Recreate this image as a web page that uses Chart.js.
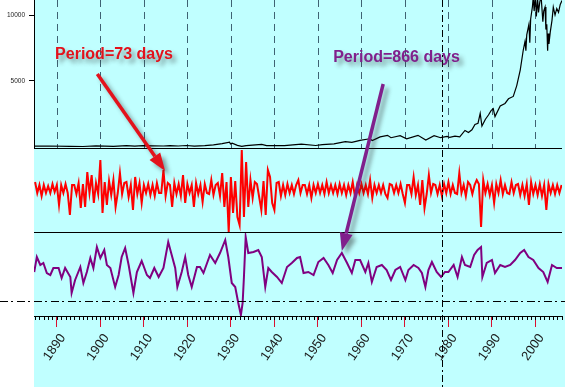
<!DOCTYPE html>
<html>
<head>
<meta charset="utf-8">
<script src="https://cdn.jsdelivr.net/npm/chart.js@4/dist/chart.umd.min.js"></script>
<style>
html, body { margin: 0; padding: 0; background: #fff; }
#wrap { width: 565px; height: 387px; position: relative; }
</style>
</head>
<body>
<div id="wrap"><canvas id="chart"></canvas></div>
<script>
// price index, top panel
let dowYears = [1884.8,1888,1893,1896,1899,1903,1906,1907.9,1909.8,1914.5,
    1916,1917.9,1919.8,1921.6,1924,1926,1928,1929.7,1929.9,1930.3,
    1931.5,1932.5,1933.5,1937.1,1938.2,1942.3,1946.2,1949.5,1951,1953.7,
    1956.3,1957.8,1959.7,1961.9,1962.5,1964.3,1966,1966.8,1968.9,1970.4,
    1973,1974.8,1976.7,1978.2,1979.7,1980.3,1981.5,1982.6,1983.8,1984.6,
    1985.4,1986.1,1986.8,1987.3,1987.7,1988.5,1989.2,1989.8,1990.3,1990.7,
    1991.9,1993,1993.8,1994.9,1995.7,1996.5,1997.2,1997.6,1997.8,1998.0,
    1998.5,1998.7,1998.9,1999.3,1999.5,1999.7,2000.0,2000.2,2000.5,2000.7,
    2001.0,2001.3,2001.7,2001.9,2002.2,2002.4,2002.6,2002.8,2002.9,2003.1,
    2003.4,2003.8,2004.1,2004.5,2004.9,2005.3,2005.7,2006.1];
let dowValues = [60,70,45,35,75,50,95,55,100,70,
    105,70,110,65,100,150,250,370,230,290,
    120,45,100,190,100,95,210,110,180,240,
    400,350,500,620,480,760,880,700,860,620,
    880,520,850,700,800,720,820,760,1250,1090,
    1300,1700,1800,2550,1580,2100,2420,2750,2900,2300,
    3100,3300,3650,3830,4650,5830,7350,8000,7300,8500,
    9300,7900,9700,10630,11400,10300,11600,9900,11200,10200,
    11000,11400,9500,10300,10600,8900,9300,7300,8600,7800,
    8700,9600,10600,10000,10500,10200,10800,11100];

// 73 day component, two readings a year starting 1885.0
let redFirstYear = 1885;
let redValues = [
    7,-4, 4,-7, 4,-4, 3,-4, 5,-3,            // 1885-1889
    4,-16, 4,-4, 5,-4, -26,4, 4,-5,          // 1890-1894
    6,-19, 5,-18, 17,-4, 14,-14, 6,-5,       // 1895-1899
    29,-24, 7,-16, 8,-6, 9,-18, -4,16,       // 1900-1904
    -5,6, 7,-8, 4,-21, 12,-5, 6,-14,         // 1905-1909
    4,-4, 5,-6, 4,-7, 6,-4, -4,19,           // 1910-1914
    -7,6, 4,-18, 6,-5, 5,-7, 14,-14,         // 1915-1919
    5,-4, 4,-18, 6,-5, 4,-13, 5,-4,          // 1920-1924
    -5,9, -6,4, 6,-7, 16,-18, 7,-43,         // 1925-1929
    12,-24, 8,-28, -36,39, -28,27, -18,9,    // 1930-1934
    -9,7, 5,-8, -21,8, -26,19, 12,-14,       // 1935-1939
    -21,6, 7,-7, 4,-6, 5,-4, 4,-5,           // 1940-1944
    4,9, -4,4, 4,-5, 4,-9, 4,-4,             // 1945-1949
    5,-4, 4,-5, 7,-4, 4,-4, 4,-5,            // 1950-1954
    5,-4, 4,-6, 4,-4, 7,-7, 4,-4,            // 1955-1959
    5,-4, 4,-5, 9,-9, 4,-4, 4,-4,            // 1960-1964
    4,-5, -9,5, 4,-4, 4,-4, 5,-5,            // 1965-1969
    -14,4, 4,-5, 12,-6, 4,-16, 9,-19,        // 1970-1974
    -5,14, -4,5, 4,-5, 4,-7, 5,-4,           // 1975-1979
    7,-5, 4,-4, -5,16, -4,4, -7,7,           // 1980-1984
    4,-5, 4,9, 5,-38, 9,-4, 5,-6,            // 1985-1989
    4,-14, 5,-4, 9,-5, 4,-4, -5,7,           // 1990-1994
    -4,4, 5,-6, 4,-7, 5,-16, 7,-5,           // 1995-1999
    4,-6, 5,-7, 4,-21, 5,-4, 4,-5,           // 2000-2004
    4,-4, 4                                  // 2005-2006
];

// 866 day component, bottom panel
let purpleYears = [1884.8,1885.4,1886.2,1886.9,1887.7,1888.5,1889.2,1890.4,1891.1,1891.9,
    1893.1,1893.4,1894.2,1895.4,1896.1,1896.9,1897.7,1898.4,1899.2,1900.0,
    1900.9,1901.5,1902.3,1903.4,1904.2,1904.9,1905.7,1906.5,1907.6,1908.4,
    1909.5,1910.7,1911.4,1912.4,1913.4,1914.5,1915.6,1916.4,1917.2,1917.7,
    1918.7,1919.5,1920.2,1921.0,1922.2,1922.9,1923.7,1925.2,1926.4,1927.5,
    1928.7,1929.4,1930.2,1931.0,1931.7,1932.3,1932.7,1933.0,1933.4,1934.0,
    1935.2,1936.3,1937.1,1937.9,1938.6,1939.4,1940.6,1941.7,1942.9,1944.0,
    1945.2,1945.9,1946.7,1947.8,1949.0,1950.1,1951.3,1952.4,1953.4,1954.4,
    1955.5,1956.7,1957.8,1958.6,1959.7,1960.9,1961.6,1962.4,1963.5,1964.7,
    1965.8,1966.8,1967.8,1968.9,1970.1,1970.8,1972.0,1973.1,1973.9,1974.7,
    1975.4,1976.2,1977.3,1978.3,1979.2,1980.0,1981.2,1982.1,1983.1,1983.8,
    1985.0,1985.9,1986.7,1987.5,1987.8,1988.8,1990.0,1990.7,1991.9,1993.0,
    1994.2,1995.3,1996.5,1997.4,1998.4,1999.5,2000.7,2001.8,2002.8,2003.8,
    2004.9,2006.1];
let purpleValues = [2,17,9,11,1,-1,6,6,-4,6,
    -3,-19,-6,7,-9,2,16,6,27,16,
    24,9,6,-13,-1,17,26,9,-19,2,
    13,-1,-4,6,-3,6,32,19,6,-13,
    2,17,-1,-13,7,7,1,19,11,21,
    34,17,-9,-13,-29,-41,-29,-3,37,21,
    22,24,17,-13,6,2,-3,-9,7,11,
    16,17,1,2,-1,12,16,9,1,14,
    21,11,1,14,14,2,11,-8,7,9,
    4,-6,4,7,-6,4,9,6,1,-13,
    4,12,2,-3,2,2,9,-3,17,9,
    7,19,24,27,-3,11,14,1,9,7,
    9,14,21,24,17,14,6,2,-8,9,
    6,6];

let decadeYears = [1890,1900,1910,1920,1930,1940,1950,1960,1970,1980,1990,2000];
let priceTicks = [5000, 10000];
let markerYear = 1978.6;
let purpleFloor = -27;

let notes = [
    { text: "Period=73 days", color: "#e3121c", year: 1889.6, value: 6630,
      tail: [1899.3, 5530], tip: [1914.9, 18], tipAxis: "yRed" },
    { text: "Period=866 days", color: "#80208c", year: 1953.5, value: 6440,
      tail: [1965.0, 4772], tip: [1955.5, 23], tipAxis: "yPurple" }
];

let cyan = "#c0ffff";
let fontFamily = 'Arial, "Liberation Sans", sans-serif';
Chart.defaults.font.family = fontFamily;

function pairs(xs, ys) {
    return xs.map((x, i) => ({ x: x, y: ys[i] }));
}
let redPoints = redValues.map((v, i) => ({ x: redFirstYear + i * 0.5, y: v }));

function drawArrow(ctx, x0, y0, x1, y1, color) {
    let ang = Math.atan2(y1 - y0, x1 - x0);
    let head = 18, half = 6.5;
    let bx = x1 - head * Math.cos(ang), by = y1 - head * Math.sin(ang);
    ctx.strokeStyle = color;
    ctx.fillStyle = color;
    ctx.lineWidth = 3.5;
    ctx.beginPath();
    ctx.moveTo(x0, y0);
    ctx.lineTo(bx, by);
    ctx.stroke();
    ctx.beginPath();
    ctx.moveTo(x1, y1);
    ctx.lineTo(bx + half * Math.sin(ang), by - half * Math.cos(ang));
    ctx.lineTo(bx - half * Math.sin(ang), by + half * Math.cos(ang));
    ctx.closePath();
    ctx.fill();
}

let panelPlugin = {
    id: "panels",
    beforeDraw(chart) {
        let ctx = chart.ctx, a = chart.chartArea;
        ctx.save();
        ctx.fillStyle = "#ffffff";
        ctx.fillRect(0, 0, chart.width, chart.height);
        ctx.fillStyle = cyan;
        ctx.fillRect(a.left, 0, chart.width - a.left, chart.height);
        ctx.restore();
    },
    beforeDatasetsDraw(chart) {
        // dashed decade grid, only in the price panel
        let ctx = chart.ctx, x = chart.scales.x, top = chart.scales.yDow;
        ctx.save();
        ctx.strokeStyle = "#3f6273";
        ctx.lineWidth = 1;
        ctx.setLineDash([7, 5]);
        decadeYears.forEach(yr => {
            let px = Math.round(x.getPixelForValue(yr)) + 0.5;
            ctx.beginPath();
            ctx.moveTo(px, top.top);
            ctx.lineTo(px, top.bottom);
            ctx.stroke();
        });
        ctx.restore();
    },
    afterDatasetsDraw(chart) {
        let ctx = chart.ctx, a = chart.chartArea, x = chart.scales.x;
        ctx.save();
        // panel separators
        ctx.strokeStyle = "#000";
        ctx.lineWidth = 1;
        [chart.scales.yDow.bottom, chart.scales.yRed.bottom].forEach(b => {
            let py = Math.round(b) + 0.5;
            ctx.beginPath();
            ctx.moveTo(a.left, py);
            ctx.lineTo(a.right, py);
            ctx.stroke();
        });
        // yearly minor ticks
        for (let yr = 1885; yr <= 2006; yr++) {
            let px = Math.round(x.getPixelForValue(yr)) + 0.5;
            ctx.beginPath();
            ctx.moveTo(px, x.top);
            ctx.lineTo(px, x.top + 4);
            ctx.stroke();
        }
        // dash-dot level in the bottom panel
        let fy = Math.round(chart.scales.yPurple.getPixelForValue(purpleFloor)) + 0.5;
        ctx.setLineDash([8, 3, 2, 4]);
        ctx.beginPath();
        ctx.moveTo(0, fy);
        ctx.lineTo(chart.width, fy);
        ctx.stroke();
        // vertical marker
        let mx = Math.round(x.getPixelForValue(markerYear)) + 0.5;
        ctx.setLineDash([7, 3, 2, 3]);
        ctx.beginPath();
        ctx.moveTo(mx, 0);
        ctx.lineTo(mx, chart.height);
        ctx.stroke();
        ctx.restore();
    },
    afterDraw(chart) {
        let ctx = chart.ctx, x = chart.scales.x, yTop = chart.scales.yDow;
        ctx.save();
        ctx.shadowColor = "rgba(40,40,40,0.45)";
        ctx.shadowBlur = 4;
        ctx.shadowOffsetX = 4;
        ctx.shadowOffsetY = 4;
        notes.forEach(n => {
            let tipScale = chart.scales[n.tipAxis];
            drawArrow(ctx,
                x.getPixelForValue(n.tail[0]), yTop.getPixelForValue(n.tail[1]),
                x.getPixelForValue(n.tip[0]), tipScale.getPixelForValue(n.tip[1]),
                n.color);
            ctx.font = "bold 16px " + fontFamily;
            ctx.fillStyle = n.color;
            ctx.textAlign = "left";
            ctx.textBaseline = "alphabetic";
            ctx.fillText(n.text, x.getPixelForValue(n.year), yTop.getPixelForValue(n.value));
        });
        ctx.restore();
    }
};

let hiddenAxis = {
    type: "linear",
    position: "left",
    stack: "panels",
    ticks: { display: false },
    grid: { display: false },
    border: { display: false },
    afterFit: s => { s.width = 34; }
};

new Chart(document.getElementById("chart"), {
    type: "line",
    data: {
        datasets: [
            { label: "price", data: pairs(dowYears, dowValues), yAxisID: "yDow",
              borderColor: "#000000", borderWidth: 1.2, pointRadius: 0, tension: 0 },
            { label: "73 days", data: redPoints, yAxisID: "yRed",
              borderColor: "#ff0000", borderWidth: 2, pointRadius: 0, tension: 0 },
            { label: "866 days", data: pairs(purpleYears, purpleValues), yAxisID: "yPurple",
              borderColor: "#800080", borderWidth: 2, pointRadius: 0, tension: 0 }
        ]
    },
    options: {
        animation: false,
        responsive: true,
        maintainAspectRatio: false,
        layout: { padding: { left: 0, right: 3, top: 0, bottom: 0 } },
        plugins: { legend: { display: false }, tooltip: { enabled: false } },
        scales: {
            x: {
                type: "linear",
                min: 1884.75,
                max: 2006.1,
                afterBuildTicks: s => { s.ticks = decadeYears.map(v => ({ value: v })); },
                afterFit: s => { s.height = 71; },
                grid: { drawOnChartArea: false, drawTicks: true, tickLength: 11, color: "#d81030", lineWidth: 1 },
                border: { display: true, color: "#000", width: 1 },
                ticks: {
                    autoSkip: false, minRotation: 55, maxRotation: 55, padding: 4, labelOffset: 6,
                    color: "#1a1a1a", font: { size: 13 },
                    callback: v => String(v)
                }
            },
            yPurple: Object.assign({}, hiddenAxis, { stackWeight: 84, min: -42, max: 42 }),
            yRed: Object.assign({}, hiddenAxis, { stackWeight: 84, min: -43, max: 41 }),
            yDow: {
                type: "linear",
                position: "left",
                stack: "panels",
                stackWeight: 148,
                min: -80,
                max: 11140,
                afterBuildTicks: s => { s.ticks = priceTicks.map(v => ({ value: v })); },
                afterFit: s => { s.width = 34; s.paddingTop = 0; s.paddingBottom = 0; },
                grid: { drawOnChartArea: false, tickLength: 5, color: "#000" },
                border: { display: true, color: "#000" },
                ticks: { color: "#222", padding: 4, font: { size: 6.5 }, callback: v => String(v) }
            }
        }
    },
    plugins: [panelPlugin]
});
</script>
</body>
</html>
